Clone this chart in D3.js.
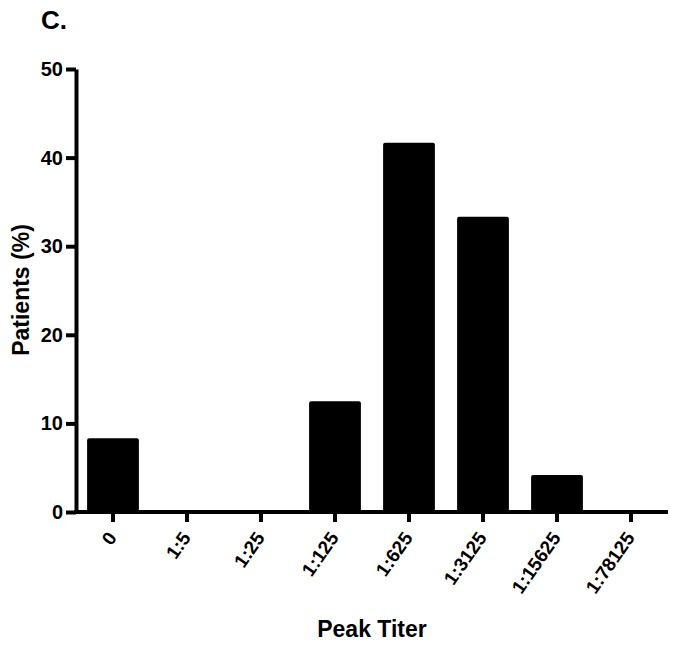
<!DOCTYPE html>
<html>
<head>
<meta charset="utf-8">
<script src="https://cdn.jsdelivr.net/npm/d3@7"></script>
<style>
  body { margin: 0; background: #fff; }
  text { font-family: "Liberation Sans", Arial, sans-serif; font-weight: bold; }
</style>
</head>
<body>
<svg id="chart" width="679" height="646"></svg>
<script>
var titers = ['0', '1:5', '1:25', '1:125', '1:625', '1:3125', '1:15625', '1:78125'];
var patientsPct = [8.33, 0, 0, 12.5, 41.67, 33.33, 4.17, 0];
var yTicks = [0, 10, 20, 30, 40, 50];

var margin = {top: 69, right: 11, bottom: 134, left: 76};
var svg = d3.select('#chart');
var width = +svg.attr('width') - margin.left - margin.right;
var height = +svg.attr('height') - margin.top - margin.bottom;

var g = svg.append('g').attr('transform', 'translate(' + margin.left + ',' + margin.top + ')');

var x = d3.scaleBand().domain(titers).range([0, width]).paddingInner(0.3).paddingOuter(0.15);
var y = d3.scaleLinear().domain([0, 50]).range([height, 0]);

var data = titers.map(function(t, i) { return {titer: t, pct: patientsPct[i]}; });

g.selectAll('.bar').data(data.filter(function(d) { return d.pct > 0; }))
  .enter().append('rect')
  .attr('class', 'bar')
  .attr('x', function(d) { return x(d.titer); })
  .attr('y', function(d) { return y(d.pct); })
  .attr('width', x.bandwidth())
  .attr('height', function(d) { return height - y(d.pct); })
  .attr('rx', 2)
  .attr('fill', '#000');

// y axis
var ya = g.append('g')
  .call(d3.axisLeft(y).tickValues(yTicks).tickSize(10).tickPadding(3).tickSizeOuter(0));
ya.select('.domain').attr('stroke-width', 4);
ya.selectAll('.tick line').attr('stroke-width', 4);
ya.selectAll('.tick text').attr('font-size', 20).attr('fill', '#000');

// x axis
var xa = g.append('g')
  .attr('transform', 'translate(0,' + height + ')')
  .call(d3.axisBottom(x).tickSize(10).tickSizeOuter(0));
xa.select('.domain').attr('stroke-width', 4).attr('d', 'M-2,0H' + width);
xa.selectAll('.tick line').attr('stroke-width', 4);
xa.selectAll('.tick text')
  .attr('font-size', 19)
  .attr('fill', '#000')
  .attr('text-anchor', 'end')
  .attr('dy', '0.35em')
  .attr('transform', 'translate(-1,22) rotate(-55)')
  .attr('x', 0).attr('y', 0);

// titles
svg.append('text').attr('x', 41).attr('y', 29).attr('font-size', 26).text('C.');

svg.append('text')
  .attr('transform', 'translate(29,' + (margin.top + 221) + ') rotate(-90)')
  .attr('text-anchor', 'middle').attr('font-size', 23).text('Patients (%)');

svg.append('text')
  .attr('x', 372).attr('y', 637)
  .attr('text-anchor', 'middle').attr('font-size', 23).text('Peak Titer');
</script>
</body>
</html>
